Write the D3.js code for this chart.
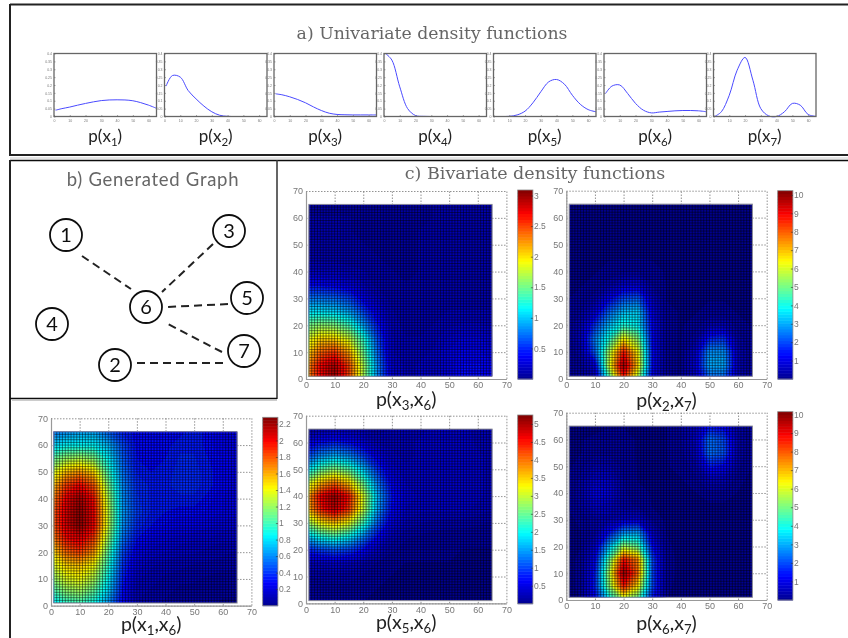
<!DOCTYPE html>
<html>
<head>
<meta charset="utf-8">
<script src="https://cdn.jsdelivr.net/npm/d3@7"></script>
<style>
html, body { margin: 0; padding: 0; background: #fff; }
svg { display: block; }
.tick-label { font-family: "Liberation Sans", sans-serif; fill: #777; }
.sub-label { font-family: Lato, sans-serif; fill: #222; }
</style>
</head>
<body>
<div id="container"></div>
<script>
// univariate curves
var curveX = [1, 5, 10, 15, 20, 25, 30, 35, 40, 45, 50, 55, 60, 65];
var px1 = [.04, .05, .06, .072, .083, .093, .101, .105, .106, .105, .1, .088, .072, .052];
var px2 = [.193, .26, .25, .165, .112, .066, .03, .008, .001, 0, 0, 0, 0, 0];
var px3 = [.144, .138, .125, .108, .087, .061, .038, .021, .013, .011, .01, .01, .01, .01];
var px4 = [.4, .358, .188, .05, .006, .001, 0, 0, 0, 0, 0, 0, 0, 0];
var px5 = [0, 0, .001, .01, .034, .087, .157, .22, .235, .205, .135, .078, .044, .03];
var px6 = [.146, .193, .2, .146, .083, .04, .023, .028, .032, .036, .038, .038, .036, .03];
var px7 = [.002, .03, .135, .294, .375, .23, .05, .004, 0, .03, .083, .072, .013, .001];
var curveNames = ["1", "2", "3", "4", "5", "6", "7"];
var curveTicksY = [0, .05, .1, .15, .2, .25, .3, .35, .4];

// graph
var nodeIds = [1, 2, 3, 4, 5, 6, 7];
var links = [[1, 6], [3, 6], [5, 6], [7, 6], [2, 7]];

// bivariate densities, rows run from y=65 (top) down to y=0, columns x=0..65 every 5
var gridStep = [0, 5, 10, 15, 20, 25, 30, 35, 40, 45, 50, 55, 60, 65];
var gridX3X6 = [
  [.08, .08, .08, .08, .08, .08, .08, .08, .08, .1, .12, .12, .12, .1],
  [.1, .1, .1, .1, .08, .08, .08, .08, .08, .1, .12, .12, .12, .1],
  [.1, .1, .1, .1, .08, .08, .08, .08, .1, .1, .12, .12, .12, .1],
  [.1, .1, .1, .1, .1, .08, .08, .08, .1, .1, .12, .12, .12, .1],
  [.12, .12, .12, .1, .1, .1, .08, .08, .1, .1, .12, .12, .12, .1],
  [.2, .2, .2, .18, .15, .12, .1, .08, .1, .1, .12, .12, .12, .1],
  [.4, .4, .35, .3, .2, .12, .1, .1, .1, .1, .12, .12, .12, .1],
  [.75, .75, .7, .6, .35, .2, .12, .1, .1, .1, .12, .12, .12, .12],
  [1.1, 1.1, 1.05, .9, .6, .3, .15, .12, .12, .12, .15, .15, .15, .15],
  [1.5, 1.6, 1.55, 1.35, .9, .45, .18, .12, .12, .15, .18, .2, .2, .18],
  [1.8, 2.05, 2.05, 1.8, 1.3, .6, .2, .15, .15, .18, .25, .3, .3, .25],
  [2.0, 2.4, 2.55, 2.2, 1.5, .7, .2, .15, .18, .2, .3, .35, .35, .3],
  [2.2, 2.7, 2.95, 2.5, 1.7, .8, .25, .18, .2, .2, .3, .4, .4, .35],
  [2.2, 2.7, 3.0, 2.5, 1.7, .8, .25, .18, .2, .2, .3, .4, .4, .35]
];
var gridX2X7 = [
  [.15, .15, .15, .15, .15, .15, .15, .15, .15, .15, .15, .15, .15, .15],
  [.15, .15, .15, .15, .15, .15, .15, .15, .15, .15, .15, .15, .15, .15],
  [.15, .15, .15, .15, .15, .15, .15, .15, .15, .15, .15, .15, .15, .15],
  [.15, .15, .15, .15, .15, .15, .15, .15, .15, .15, .15, .15, .15, .15],
  [.15, .15, .15, .15, .15, .15, .15, .15, .15, .15, .15, .15, .15, .15],
  [.15, .15, .15, .2, .25, .3, .2, .15, .15, .15, .15, .15, .15, .15],
  [.15, .15, .2, .4, .8, .9, .3, .15, .15, .15, .15, .15, .15, .15],
  [.15, .2, .4, 1.2, 2.0, 2.2, .7, .15, .15, .15, .15, .15, .15, .15],
  [.15, .3, .9, 2.3, 3.2, 3.4, 1.0, .2, .15, .15, .2, .2, .15, .15],
  [.15, .5, 1.8, 3.2, 4.2, 3.8, 1.2, .2, .15, .2, .5, .6, .2, .15],
  [.15, .6, 2.6, 4.2, 6.5, 5.2, 1.3, .2, .15, .4, 1.6, 1.8, .4, .15],
  [.15, .4, 2.2, 5.6, 8.8, 6.4, 1.4, .2, .15, .8, 2.8, 2.8, .6, .15],
  [.15, .25, 1.0, 6.0, 10, 6.8, 1.3, .2, .15, .9, 3.0, 3.0, .6, .15],
  [.15, .2, .5, 4.4, 8.5, 5.5, 1.0, .2, .15, .6, 2.2, 2.2, .5, .15]
];
var gridX1X6 = [
  [.55, .6, .65, .65, .5, .35, .3, .3, .3, .3, .35, .3, .25, .22],
  [.75, .85, .85, .85, .7, .45, .3, .3, .3, .35, .35, .3, .25, .22],
  [1.05, 1.2, 1.25, 1.15, .85, .5, .32, .32, .32, .36, .36, .32, .28, .22],
  [1.3, 1.55, 1.65, 1.5, 1.0, .55, .35, .32, .34, .37, .37, .34, .28, .22],
  [1.5, 1.85, 2.0, 1.8, 1.15, .6, .38, .35, .35, .37, .37, .34, .28, .22],
  [1.65, 2.0, 2.2, 1.95, 1.25, .62, .4, .35, .35, .35, .35, .3, .25, .22],
  [1.75, 2.05, 2.25, 2.0, 1.3, .65, .42, .35, .32, .3, .3, .28, .25, .22],
  [1.75, 2.05, 2.25, 2.0, 1.3, .62, .38, .32, .28, .25, .25, .22, .2, .18],
  [1.65, 1.95, 2.05, 1.85, 1.2, .55, .32, .25, .22, .2, .18, .18, .15, .15],
  [1.45, 1.75, 1.85, 1.65, 1.05, .45, .25, .2, .18, .15, .15, .12, .12, .1],
  [1.3, 1.5, 1.55, 1.4, .95, .4, .2, .15, .12, .12, .1, .1, .08, .08],
  [1.15, 1.35, 1.4, 1.25, .85, .35, .15, .12, .1, .08, .08, .06, .06, .05],
  [.95, 1.15, 1.2, 1.05, .75, .3, .12, .1, .08, .06, .05, .05, .04, .04],
  [.75, .9, .95, .85, .6, .25, .1, .08, .06, .05, .04, .04, .03, .03]
];
var gridX5X6 = [
  [.15, .25, .3, .3, .25, .2, .25, .3, .3, .35, .4, .35, .3, .3],
  [.5, .7, .8, .7, .5, .3, .3, .3, .35, .4, .4, .4, .3, .3],
  [1.0, 1.4, 1.6, 1.4, 1.0, .55, .35, .3, .35, .4, .4, .4, .35, .3],
  [1.8, 2.4, 2.7, 2.4, 1.7, .9, .45, .35, .35, .4, .4, .4, .35, .3],
  [2.9, 3.6, 4.0, 3.5, 2.5, 1.3, .6, .4, .35, .4, .4, .4, .35, .3],
  [3.6, 4.6, 5.1, 4.5, 3.1, 1.6, .75, .45, .4, .4, .4, .4, .35, .3],
  [3.5, 4.4, 4.9, 4.3, 3.0, 1.5, .65, .4, .35, .35, .35, .35, .3, .25],
  [2.7, 3.3, 3.6, 3.2, 2.3, 1.15, .5, .3, .25, .22, .2, .2, .18, .15],
  [1.7, 2.1, 2.3, 2.0, 1.4, .7, .3, .18, .15, .12, .12, .12, .1, .1],
  [.8, 1.0, 1.1, 1.0, .7, .35, .18, .12, .1, .1, .1, .08, .08, .08],
  [.3, .35, .4, .35, .25, .15, .1, .08, .08, .08, .08, .08, .08, .08],
  [.15, .18, .2, .2, .15, .1, .08, .08, .08, .08, .08, .08, .08, .08],
  [.12, .12, .12, .12, .1, .08, .08, .08, .08, .08, .08, .08, .08, .08],
  [.08, .08, .08, .08, .08, .08, .08, .08, .08, .08, .08, .08, .08, .08]
];
var gridX6X7 = [
  [.1, .1, .1, .15, .15, .15, .15, .15, .3, .6, 1.4, 1.2, .4, .15],
  [.1, .15, .2, .2, .2, .15, .15, .15, .3, .7, 2.4, 2.0, .5, .15],
  [.1, .15, .25, .25, .2, .15, .15, .15, .25, .6, 2.4, 2.1, .45, .15],
  [.1, .25, .5, .5, .25, .15, .15, .15, .2, .4, 1.5, 1.3, .35, .15],
  [.15, .35, .8, .8, .3, .15, .15, .15, .15, .25, .6, .6, .2, .12],
  [.15, .4, 1.1, 1.0, .35, .2, .15, .15, .15, .15, .25, .25, .15, .1],
  [.15, .35, .8, .7, .35, .3, .15, .12, .12, .12, .12, .12, .1, .1],
  [.1, .2, .4, .6, .8, .9, .3, .12, .1, .1, .1, .1, .1, .1],
  [.1, .15, .4, 1.5, 2.8, 3.0, .8, .15, .1, .1, .1, .1, .1, .1],
  [.1, .15, .8, 3.2, 5.5, 4.8, 1.4, .2, .1, .1, .1, .1, .1, .1],
  [.1, .2, 1.2, 4.8, 8.8, 7.5, 2.0, .25, .1, .1, .1, .1, .1, .1],
  [.1, .2, 1.5, 5.6, 10, 7.8, 2.0, .25, .1, .1, .1, .1, .1, .1],
  [.1, .2, 1.6, 5.2, 8.6, 6.5, 2.0, .2, .1, .1, .1, .1, .1, .1],
  [.1, .15, 1.2, 3.6, 5.5, 4.5, 1.4, .15, .1, .1, .1, .1, .1, .1]
];
var axisTicks = [0, 10, 20, 30, 40, 50, 60, 70];
var barTicks3 = [.5, 1, 1.5, 2, 2.5, 3];
var barTicks10 = [1, 2, 3, 4, 5, 6, 7, 8, 9, 10];
var barTicks2 = [.2, .4, .6, .8, 1, 1.2, 1.4, 1.6, 1.8, 2, 2.2];
var barTicks5 = [.5, 1, 1.5, 2, 2.5, 3, 3.5, 4, 4.5, 5];

var width = 848, height = 638;

var svg = d3.select("#container").append("svg")
    .attr("width", width)
    .attr("height", height);

var defs = svg.append("defs");
defs.append("filter").attr("id", "soft")
    .attr("filterUnits", "userSpaceOnUse")
    .attr("x", 0).attr("y", 0).attr("width", width).attr("height", height)
    .append("feGaussianBlur").attr("stdDeviation", 0.55);

var root = svg.append("g").attr("filter", "url(#soft)");

// frames
function frameLine(x1, y1, x2, y2, color, w) {
  root.append("line")
      .attr("x1", x1).attr("y1", y1).attr("x2", x2).attr("y2", y2)
      .attr("stroke", color).attr("stroke-width", w);
}
frameLine(10, 4.5, 848, 4.5, "#222", 1.8);
frameLine(10, 4, 10, 156, "#222", 2);
frameLine(10, 155, 848, 155, "#222", 2);
frameLine(10, 158, 848, 158, "#ccc", 1);
frameLine(10, 160.5, 848, 160.5, "#111", 1.4);
frameLine(10, 160, 10, 638, "#222", 2);
frameLine(277, 160, 277, 399, "#333", 1.5);
frameLine(10, 398.5, 277, 398.5, "#111", 1.6);
frameLine(12, 400.5, 277, 400.5, "#ccc", 1);

// titles
function title(txt, x, y, size, family, spacing) {
  root.append("text").attr("x", x).attr("y", y)
      .attr("text-anchor", "middle")
      .attr("font-family", family).attr("font-size", size)
      .attr("letter-spacing", spacing)
      .attr("fill", "#666").text(txt);
}
title("a) Univariate density functions", 432, 38.5, 17.3, "'DejaVu Serif', serif", 0);
title("b) Generated Graph", 153, 186, 18.5, "Lato, sans-serif", 0.7);
title("c) Bivariate density functions", 535, 179, 17.5, "'DejaVu Serif', serif", 0);

// label like p(x3,x6) with real subscripts
function subLabel(x, y, size, subs) {
  var t = root.append("text").attr("class", "sub-label")
      .attr("x", x).attr("y", y)
      .attr("text-anchor", "middle").attr("font-size", size);
  var shift = size * 0.22;
  t.append("tspan").text("p(x");
  subs.forEach(function (s, i) {
    t.append("tspan").attr("dy", shift).attr("font-size", size * 0.68).text(s);
    t.append("tspan").attr("dy", -shift).text(i < subs.length - 1 ? ",x" : ")");
  });
}

// a) small density plots
var curves = [px1, px2, px3, px4, px5, px6, px7];
var curveBoxLeft = [54, 164.5, 274, 384, 493.5, 604, 713.5];
var boxW = 102.5, boxTop = 53.5, boxBottom = 116.5;

curves.forEach(function (values, i) {
  var left = curveBoxLeft[i];
  var x = d3.scaleLinear().domain([0, 65]).range([left, left + boxW]);
  var y = d3.scaleLinear().domain([0, .4]).range([boxBottom, boxTop]);
  var g = root.append("g");

  var line = d3.line()
      .x(function (d, k) { return x(curveX[k]); })
      .y(function (d) { return y(d); })
      .curve(d3.curveCatmullRom);

  g.append("path").datum(values)
      .attr("d", line)
      .attr("fill", "none")
      .attr("stroke", "#4a4aff")
      .attr("stroke-width", 1);

  g.append("rect")
      .attr("x", left).attr("y", boxTop)
      .attr("width", boxW).attr("height", boxBottom - boxTop)
      .attr("fill", "none").attr("stroke", "#666").attr("stroke-width", 1.3);

  g.append("g").attr("transform", "translate(0," + boxBottom + ")")
      .call(d3.axisBottom(x).tickValues(axisTicks.slice(0, 7)).tickSizeInner(-1.5).tickSizeOuter(0).tickPadding(3))
      .call(styleAxis, 3.5);
  g.append("g").attr("transform", "translate(" + left + ",0)")
      .call(d3.axisLeft(y).tickValues(curveTicksY).tickSizeInner(-1.5).tickSizeOuter(0).tickPadding(2).tickFormat(d3.format("~g")))
      .call(styleAxis, 3.5);

  subLabel(left + boxW / 2, 142, 17, [curveNames[i]]);
});

function styleAxis(sel, size) {
  sel.select(".domain").attr("stroke", "none");
  sel.selectAll("line").attr("stroke", "#666").attr("stroke-width", 0.6);
  sel.selectAll("text").attr("class", "tick-label").attr("font-size", size).attr("fill", "#777");
  sel.attr("font-family", null).attr("font-size", null);
}

// b) graph, layout in page pixels, drawn by hand in the original so edges do not aim at the centres
var nodeRadius = 16;
var nodeLayout = {1: [66, 235], 2: [115, 365], 3: [229, 231], 4: [52, 324], 5: [247, 298], 6: [146, 307], 7: [244, 351]};
var edgeLayout = [[82, 256, 131, 289], [213, 244, 162, 292], [228, 304, 166, 307], [222, 352, 166, 323], [137, 363, 224, 363]];
var graph = root.append("g");

graph.selectAll("line.edge").data(links).enter().append("line")
    .attr("class", "edge")
    .attr("x1", function (d, i) { return edgeLayout[i][0]; })
    .attr("y1", function (d, i) { return edgeLayout[i][1]; })
    .attr("x2", function (d, i) { return edgeLayout[i][2]; })
    .attr("y2", function (d, i) { return edgeLayout[i][3]; })
    .attr("stroke", "#222")
    .attr("stroke-width", 2)
    .attr("stroke-dasharray", "8 5");

var nodeG = graph.selectAll("g.node").data(nodeIds).enter().append("g")
    .attr("class", "node")
    .attr("transform", function (d) { return "translate(" + nodeLayout[d] + ")"; });
nodeG.append("circle")
    .attr("r", nodeRadius)
    .attr("fill", "#fff")
    .attr("stroke", "#111")
    .attr("stroke-width", 1.8);
nodeG.append("text")
    .attr("text-anchor", "middle")
    .attr("dy", "0.36em")
    .attr("font-family", "Lato, sans-serif")
    .attr("font-size", 20)
    .attr("fill", "#111")
    .text(function (d) { return d; });

// c) bivariate densities
var jet = d3.scaleLinear()
    .domain([0, .125, .375, .625, .875, 1])
    .range(["#00008f", "#0000ff", "#00ffff", "#ffff00", "#ff0000", "#800000"])
    .clamp(true);

var heatmaps = [
  {grid: gridX3X6, subs: ["3", "6"], vmax: 3.09, ticks: barTicks3, left: 306, top: 191, bottom: 379, barLeft: 517.7, barTop: 190, barBottom: 379, labelY: 406},
  {grid: gridX2X7, subs: ["2", "7"], vmax: 10.23, ticks: barTicks10, left: 566.3, top: 190.7, bottom: 379, barLeft: 777.7, barTop: 190.7, barBottom: 379, labelY: 407},
  {grid: gridX1X6, subs: ["1", "6"], vmax: 2.28, ticks: barTicks2, left: 51, top: 418.3, bottom: 605.7, barLeft: 262.7, barTop: 417.3, barBottom: 605.7, labelY: 631},
  {grid: gridX5X6, subs: ["5", "6"], vmax: 5.25, ticks: barTicks5, left: 306, top: 415.7, bottom: 603.3, barLeft: 517.7, barTop: 415, barBottom: 603.7, labelY: 629},
  {grid: gridX6X7, subs: ["6", "7"], vmax: 10.15, ticks: barTicks10, left: 566.3, top: 412.7, bottom: 600, barLeft: 777.7, barTop: 411.7, barBottom: 600, labelY: 630}
];
var plotW = 200.4, barW = 15.2;
var meshLines = d3.range(1, 66);

heatmaps.forEach(function (h, idx) {
  var x = d3.scaleLinear().domain([0, 70]).range([h.left, h.left + plotW]);
  var y = d3.scaleLinear().domain([0, 70]).range([h.bottom, h.top]);
  var g = root.append("g");
  var clipId = "clip" + idx;

  defs.append("clipPath").attr("id", clipId).append("rect")
      .attr("x", x(1)).attr("y", y(65))
      .attr("width", x(65) - x(1)).attr("height", y(1) - y(65));

  // dotted grid under the surface, box on top and right stays dotted too
  g.append("g").attr("transform", "translate(0," + y(0) + ")")
      .call(d3.axisBottom(x).tickValues(axisTicks).tickSize(y(70) - y(0)))
      .call(dotted);
  g.append("g").attr("transform", "translate(" + x(0) + ",0)")
      .call(d3.axisLeft(y).tickValues(axisTicks).tickSize(x(0) - x(70)))
      .call(dotted);

  var surface = g.append("g").attr("clip-path", "url(#" + clipId + ")");
  surface.append("rect")
      .attr("x", x(1)).attr("y", y(65))
      .attr("width", x(65) - x(1)).attr("height", y(1) - y(65))
      .attr("fill", jet(0));

  var n = gridStep.length;
  var flat = [];
  h.grid.forEach(function (row) { row.forEach(function (v) { flat.push(v); }); });
  var levels = d3.range(1, 64).map(function (k) { return k * h.vmax / 64; });
  var contours = d3.contours().size([n, n]).thresholds(levels)(flat);

  // contour coordinates: grid node i sits at i + 0.5
  var path = d3.geoPath(d3.geoTransform({
    point: function (cx, cy) {
      var dataX = gridStep[0] + (cx - 0.5) * 5;
      var dataY = 65 - (cy - 0.5) * 5;
      this.stream.point(x(dataX), y(dataY));
    }
  }));
  surface.selectAll("path").data(contours).enter().append("path")
      .attr("d", path)
      .attr("fill", function (d) { return jet((d.value + h.vmax / 128) / h.vmax); });

  // surface mesh, one line per data unit
  surface.selectAll("line.mx").data(meshLines).enter().append("line")
      .attr("class", "mx")
      .attr("x1", function (d) { return x(d); }).attr("x2", function (d) { return x(d); })
      .attr("y1", y(65)).attr("y2", y(1));
  surface.selectAll("line.my").data(meshLines).enter().append("line")
      .attr("class", "my")
      .attr("x1", x(1)).attr("x2", x(65))
      .attr("y1", function (d) { return y(d); }).attr("y2", function (d) { return y(d); });
  surface.selectAll("line")
      .attr("stroke", "#000").attr("stroke-width", 0.85).attr("stroke-opacity", 0.55);

  g.append("rect")
      .attr("x", x(1)).attr("y", y(65))
      .attr("width", x(65) - x(1)).attr("height", y(1) - y(65))
      .attr("fill", "none").attr("stroke", "#889").attr("stroke-width", 1);

  // axes
  g.append("g").attr("transform", "translate(0," + y(0) + ")")
      .call(d3.axisBottom(x).tickValues(axisTicks).tickSize(0).tickPadding(3))
      .call(solidAxis);
  g.append("g").attr("transform", "translate(" + x(0) + ",0)")
      .call(d3.axisLeft(y).tickValues(axisTicks).tickSize(0).tickPadding(3))
      .call(solidAxis);

  subLabel((x(0) + x(70)) / 2, h.labelY, 19.5, h.subs);

  // colorbar
  var bar = d3.scaleLinear().domain([0, h.vmax]).range([h.barBottom, h.barTop]);
  var steps = d3.range(64);
  g.selectAll("rect.step").data(steps).enter().append("rect")
      .attr("class", "step")
      .attr("x", h.barLeft)
      .attr("width", barW)
      .attr("y", function (d) { return bar((d + 1) * h.vmax / 64); })
      .attr("height", (h.barBottom - h.barTop) / 64 + 0.5)
      .attr("fill", function (d) { return jet((d + 0.5) / 64); });
  g.append("rect")
      .attr("x", h.barLeft).attr("y", h.barTop)
      .attr("width", barW).attr("height", h.barBottom - h.barTop)
      .attr("fill", "none").attr("stroke", "#888").attr("stroke-width", 0.8);
  g.append("g").attr("transform", "translate(" + (h.barLeft + barW) + ",0)")
      .call(d3.axisRight(bar).tickValues(h.ticks).tickSizeInner(-2).tickSizeOuter(0).tickPadding(1).tickFormat(d3.format("~g")))
      .call(function (sel) {
        styleAxis(sel, 8.5);
        sel.selectAll("line").attr("stroke", "#333");
      });
});

function dotted(sel) {
  sel.select(".domain").remove();
  sel.selectAll("text").remove();
  sel.selectAll("line").attr("stroke", "#777").attr("stroke-width", 0.8).attr("stroke-dasharray", "1.5 1.5");
  sel.attr("font-family", null);
}

function solidAxis(sel) {
  sel.select(".domain").attr("stroke", "#999").attr("stroke-width", 1.2);
  sel.selectAll("text").attr("class", "tick-label").attr("font-size", 9).attr("fill", "#777");
  sel.attr("font-family", null).attr("font-size", null);
}
</script>
</body>
</html>
